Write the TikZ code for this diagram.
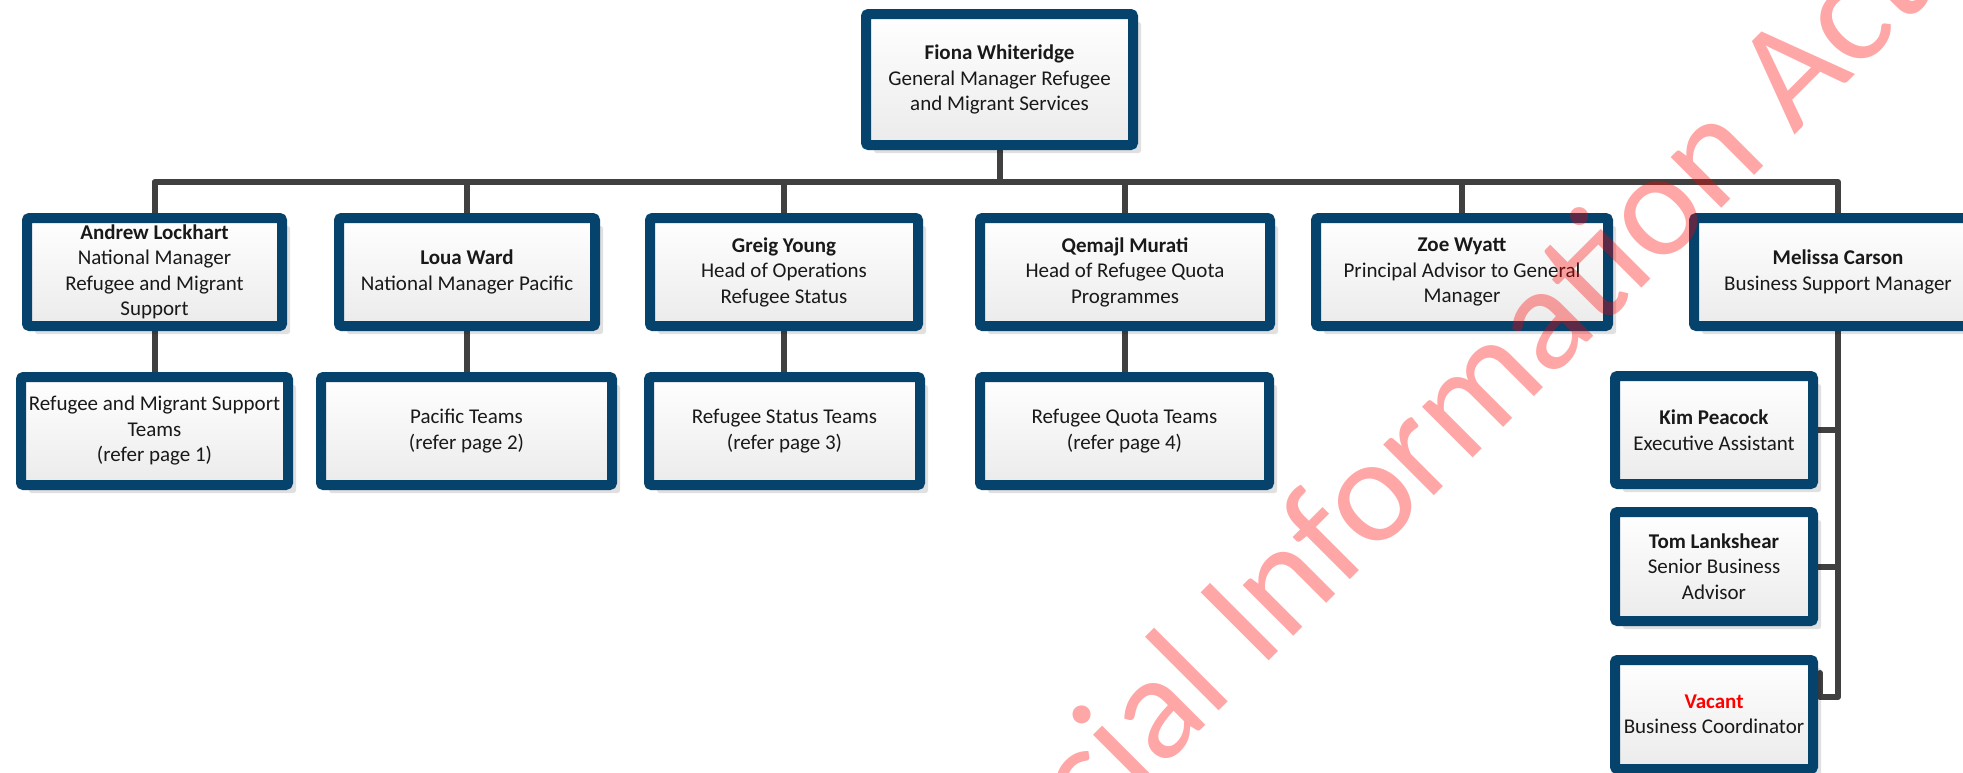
\documentclass[tikz,border=0pt]{standalone}
\usepackage{fontspec}
\setmainfont{Carlito}
\usetikzlibrary{shadows,backgrounds,calc}
\definecolor{bordercol}{HTML}{05426C}
\definecolor{linecol}{HTML}{404040}
\definecolor{boxbot}{HTML}{EBEBEB}
\begin{document}
\begin{tikzpicture}[x=1pt,y=-1pt,
  box/.style={draw=bordercol, line width=10pt, rounded corners=2.5pt, top color=white, bottom color=boxbot,
    align=center, font=\fontsize{21}{25.5}\selectfont, inner sep=0pt, text=black!90,
    drop shadow={shadow xshift=8pt, shadow yshift=-8pt, fill=black, opacity=0.12}},
  conn/.style={draw=linecol, line width=6pt, line join=round, line cap=round},
  wmark/.style={rotate=45, anchor=base west, inner sep=0pt, text=red, text opacity=0.35,
    font=\fontsize{150}{150}\selectfont}]
\useasboundingbox (0,0) rectangle (1963,772);

% top
\node[box, minimum width=267pt, minimum height=131pt] (top) at (999.5,79.5)
  {\textbf{Fiona Whiteridge}\\General Manager Refugee\\and Migrant Services};

% second row
\node[box, minimum width=255pt, minimum height=108pt] (andrew) at (154.5,272)
  {\textbf{Andrew Lockhart}\\National Manager\\Refugee and Migrant\\Support};
\node[box, minimum width=256pt, minimum height=108pt] (loua) at (467,272)
  {\textbf{Loua Ward}\\National Manager Pacific};
\node[box, minimum width=268pt, minimum height=108pt] (greig) at (784,272)
  {\textbf{Greig Young}\\Head of Operations\\Refugee Status};
\node[box, minimum width=290pt, minimum height=108pt] (qemajl) at (1125,272)
  {\textbf{Qemajl Murati}\\Head of Refugee Quota\\Programmes};
\node[box, minimum width=292pt, minimum height=108pt] (zoe) at (1462,272)
  {\textbf{Zoe Wyatt}\\Principal Advisor to General\\Manager};
\node[box, minimum width=288pt, minimum height=108pt] (mel) at (1838,272)
  {\textbf{Melissa Carson}\\Business Support Manager};

% third row
\node[box, minimum width=267pt, minimum height=108pt] (rmst) at (154.5,431)
  {Refugee and Migrant Support\\Teams\\(refer page 1)};
\node[box, minimum width=291pt, minimum height=108pt] (pac) at (466.5,431)
  {Pacific Teams\\(refer page 2)};
\node[box, minimum width=271pt, minimum height=108pt] (rst) at (784.5,431)
  {Refugee Status Teams\\(refer page 3)};
\node[box, minimum width=289pt, minimum height=108pt] (rqt) at (1124.5,431)
  {Refugee Quota Teams\\(refer page 4)};

% business support column
\node[box, minimum width=198pt, minimum height=108pt] (kim) at (1714,430)
  {\textbf{Kim Peacock}\\Executive Assistant};
\node[box, minimum width=198pt, minimum height=109pt] (tom) at (1714,566.5)
  {\textbf{Tom Lankshear}\\Senior Business\\Advisor};
\node[box, minimum width=198pt, minimum height=109pt] (vac) at (1714,714.5)
  {\textcolor{red}{\textbf{Vacant}}\\Business Coordinator};

\begin{scope}[on background layer]
  \fill[white] (0,0) rectangle (1963,772);
  \coordinate (busy) at (0,182);
  \foreach \c in {andrew,loua,greig,qemajl,zoe,mel}
    \draw[conn] (top.south) -- (top.south |- busy) -| (\c.north);
  \draw[conn] (andrew.south) -- (andrew.south |- rmst.north);
  \draw[conn] (loua.south) -- (loua.south |- pac.north);
  \draw[conn] (greig.south) -- (greig.south |- rst.north);
  \draw[conn] (qemajl.south) -- (qemajl.south |- rqt.north);
  \draw[conn] (mel.south) |- (kim.east);
  \draw[conn] (mel.south) |- (tom.east);
  \coordinate (vacA) at ($(vac.north east)+(2,18)$);
  \coordinate (vacB) at ($(vac.north east)+(2,42)$);
  \draw[conn] (mel.south) |- (vacB) -- (vacA);
\end{scope}

% watermark
\node[wmark] (wm) at (1260,670) {\llap{Official }Information Act};
\end{tikzpicture}
\end{document}
